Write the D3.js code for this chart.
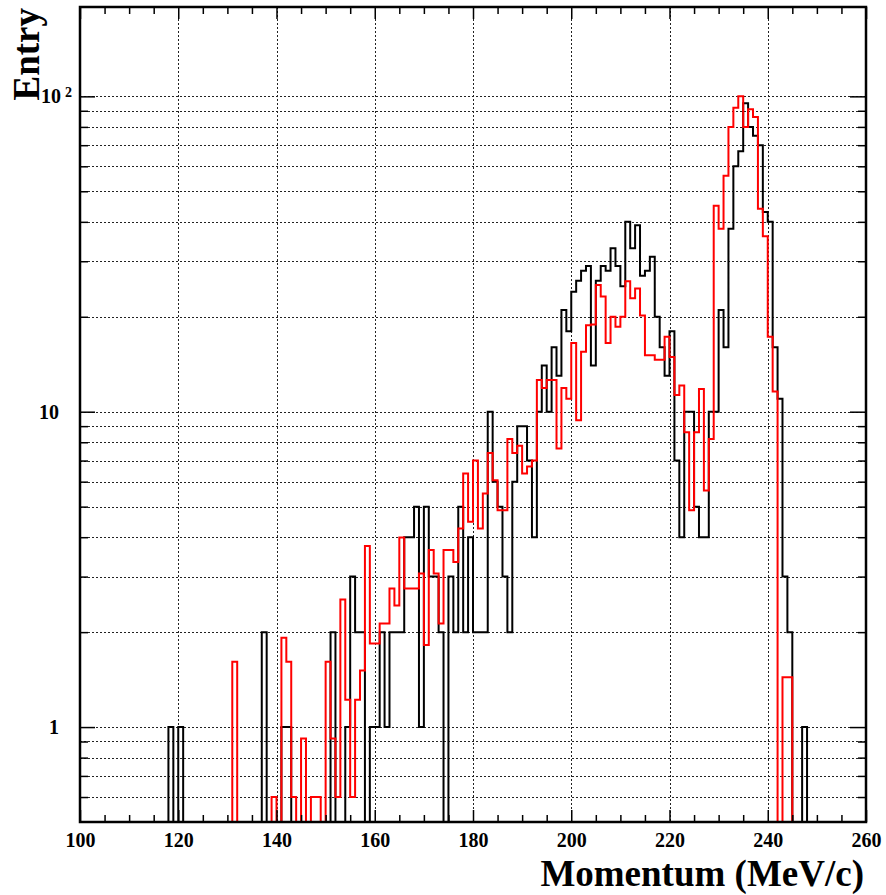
<!DOCTYPE html>
<html>
<head>
<meta charset="utf-8">
<script src="https://cdn.jsdelivr.net/npm/d3@7"></script>
<style>
  body { margin: 0; background: #fff; }
  svg { display: block; }
  text { font-family: "Liberation Serif", "DejaVu Serif", serif; font-weight: bold; }
</style>
</head>
<body>
<svg id="chart" width="886" height="895"></svg>
<script>
// 1 MeV/c bins from 100 to 260, one value per bin
const binStart = 100;
const binWidth = 1;

const blackCounts = [
  0, 0, 0, 0, 0, 0, 0, 0, 0, 0,
  0, 0, 0, 0, 0, 0, 0, 0, 1, 0,
  1, 0, 0, 0, 0, 0, 0, 0, 0, 0,
  0, 0, 0, 0, 0, 0, 0, 2, 0, 0,
  0, 1, 1, 0, 0, 0, 0, 0, 0, 0,
  0, 2, 0, 0, 1, 3, 2, 2, 0, 1,
  1, 2, 1, 2, 2, 2, 4, 4, 5, 1,
  5, 3, 3, 2, 0, 3, 2, 5, 2, 4,
  2, 2, 2, 10, 6, 5, 3, 2, 6, 9,
  9, 7, 4, 10, 14, 10, 16, 13, 21, 18,
  24, 26, 28, 29, 14, 26, 29, 28, 33, 29,
  25, 40, 33, 39, 27, 28, 31, 20, 16, 13,
  18, 7, 4, 10, 10, 5, 4, 4, 10, 10,
  21, 16, 38, 60, 67, 95, 80, 75, 70, 43,
  40, 16, 11, 3, 2, 0, 0, 1, 0, 0,
  0, 0, 0, 0, 0, 0, 0, 0, 0, 0
];

const redCounts = [
  0, 0, 0, 0, 0, 0, 0, 0, 0, 0,
  0, 0, 0, 0, 0, 0, 0, 0, 0, 0,
  0, 0, 0, 0, 0, 0, 0, 0, 0, 0,
  0, 1.61, 0, 0, 0, 0, 0, 0, 0, 0.6,
  0, 1.92, 1.61, 0.6, 0, 0.92, 0, 0.6, 0.6, 0,
  1.61, 0.92, 0.6, 2.54, 1.22, 0.6, 1.22, 1.51, 3.75, 1.84,
  1.84, 2.13, 2.13, 2.75, 2.43, 3.99, 2.75, 2.75, 2.75, 3.07,
  1.82, 3.64, 3.07, 2.13, 3.64, 3.64, 3.34, 4.26, 6.37, 4.48,
  7.0, 4.26, 5.5, 7.4, 6.06, 4.87, 4.87, 8.2, 7.4, 7.8,
  6.37, 6.7, 7.0, 12.6, 11.9, 12.6, 12.6, 7.65, 11.9, 11.0,
  16.5, 9.4, 15.5, 18.8, 18.9, 25.2, 23.2, 16.5, 20, 18.6,
  20, 25.9, 22.9, 24.6, 20.2, 15.1, 15.1, 14.6, 14.6, 17.3,
  14.9, 11.3, 12.1, 8.6, 4.87, 8.6, 11.8, 5.63, 8.2, 45,
  38, 56, 80, 92, 100, 80, 91, 86, 44, 36,
  17.3, 11.6, 0, 1.44, 1.44, 0, 0, 0, 0, 0,
  0, 0, 0, 0, 0, 0, 0, 0, 0, 0
];

const xLabels = [100, 120, 140, 160, 180, 200, 220, 240, 260];
const xMinor = [105, 110, 115, 125, 130, 135, 145, 150, 155, 165, 170, 175,
  185, 190, 195, 205, 210, 215, 225, 230, 235, 245, 250, 255];
const yLabels = [1, 10, 100];
const yMinor = [0.6, 0.7, 0.8, 0.9, 2, 3, 4, 5, 6, 7, 8, 9,
  20, 30, 40, 50, 60, 70, 80, 90];

const frameLeft = 80, frameRight = 866, frameTop = 7, frameBottom = 822;
const labelSize = 20;

const svg = d3.select("#chart");

const x = d3.scaleLinear().domain([100, 260]).range([frameLeft, frameRight]);
const y = d3.scaleLog().domain([0.5, 192]).range([frameBottom, frameTop]);

svg.append("defs").append("clipPath").attr("id", "frame")
  .append("rect")
  .attr("x", frameLeft).attr("y", frameTop)
  .attr("width", frameRight - frameLeft).attr("height", frameBottom - frameTop);

// dotted grid
const grid = svg.append("g").attr("stroke", "#222").attr("stroke-width", 1)
  .attr("stroke-dasharray", "2,2");
grid.selectAll(".hgrid")
  .data(yLabels.concat(yMinor))
  .join("line")
  .attr("x1", frameLeft).attr("x2", frameRight)
  .attr("y1", (d) => Math.round(y(d)) + 0.5)
  .attr("y2", (d) => Math.round(y(d)) + 0.5);
grid.selectAll(".vgrid")
  .data(xLabels.slice(1, -1))
  .join("line")
  .attr("x1", (d) => Math.round(x(d)) + 0.5)
  .attr("x2", (d) => Math.round(x(d)) + 0.5)
  .attr("y1", frameTop).attr("y2", frameBottom);

// histograms
function stepPoints(values) {
  const pts = values.map((v, i) => [binStart + i * binWidth, v]);
  pts.push([binStart + values.length * binWidth, values[values.length - 1]]);
  return pts;
}
const yMin = y.domain()[0];
const line = d3.line()
  .x((d) => x(d[0]))
  .y((d) => y(Math.max(d[1], yMin)))
  .curve(d3.curveStepAfter);

const plot = svg.append("g").attr("clip-path", "url(#frame)")
  .attr("fill", "none").attr("stroke-width", 2);
plot.append("path").attr("d", line(stepPoints(blackCounts))).attr("stroke", "#000");
plot.append("path").attr("d", line(stepPoints(redCounts))).attr("stroke", "#ff0000");
// red edge segments at the frame sides
plot.selectAll(".redEdge")
  .data([100, 260])
  .join("line")
  .attr("x1", (d) => x(d)).attr("x2", (d) => x(d))
  .attr("y1", y(1)).attr("y2", y(yMin))
  .attr("stroke", "#ff0000");

// axes (ticks point inward)
function styleAxis(g) {
  g.select(".domain").remove();
  g.selectAll(".tick line").attr("stroke", "#000").attr("stroke-width", 1.5);
}
function styleLabels(g) {
  g.selectAll("text").attr("font-size", labelSize).attr("fill", "#000")
    .style("font-family", "'Liberation Serif', serif").style("font-weight", "bold");
}

svg.append("g").attr("transform", `translate(0,${frameBottom})`)
  .call(d3.axisBottom(x).tickValues(xMinor).tickSize(-7).tickFormat(""))
  .call(styleAxis);
svg.append("g").attr("transform", `translate(0,${frameBottom})`)
  .call(d3.axisBottom(x).tickValues(xLabels).tickSize(-12).tickPadding(11))
  .call(styleAxis)
  .call(styleLabels);

svg.append("g").attr("transform", `translate(0,${frameTop})`)
  .call(d3.axisTop(x).tickValues(xMinor).tickSize(-7).tickFormat(""))
  .call(styleAxis);
svg.append("g").attr("transform", `translate(0,${frameTop})`)
  .call(d3.axisTop(x).tickValues(xLabels).tickSize(-12).tickFormat(""))
  .call(styleAxis);

svg.append("g").attr("transform", `translate(${frameLeft},0)`)
  .call(d3.axisLeft(y).tickValues(yMinor).tickSize(-8).tickFormat(""))
  .call(styleAxis);
svg.append("g").attr("transform", `translate(${frameLeft},0)`)
  .call(d3.axisLeft(y).tickValues(yLabels).tickSize(-15).tickPadding(21)
    .tickFormat((d) => (d === 100 ? "" : d)))
  .call(styleAxis)
  .call(styleLabels);

svg.append("g").attr("transform", `translate(${frameRight},0)`)
  .call(d3.axisRight(y).tickValues(yMinor).tickSize(-8).tickFormat(""))
  .call(styleAxis);
svg.append("g").attr("transform", `translate(${frameRight},0)`)
  .call(d3.axisRight(y).tickValues(yLabels).tickSize(-16).tickFormat(""))
  .call(styleAxis);

// 10^2 label
const pow = svg.append("text")
  .attr("x", frameLeft - 8).attr("y", y(100))
  .attr("dy", "0.32em")
  .attr("text-anchor", "end")
  .attr("font-size", labelSize);
pow.append("tspan").text("10");
pow.append("tspan").attr("dx", 4).attr("dy", -6).attr("font-size", 14).text("2");

// frame
svg.append("rect")
  .attr("x", frameLeft).attr("y", frameTop)
  .attr("width", frameRight - frameLeft).attr("height", frameBottom - frameTop)
  .attr("fill", "none").attr("stroke", "#000").attr("stroke-width", 2.5);

// axis titles
svg.append("text")
  .attr("x", 864).attr("y", 886)
  .attr("text-anchor", "end")
  .attr("font-size", 37)
  .text("Momentum (MeV/c)");

svg.append("text")
  .attr("transform", "translate(39,8) rotate(-90)")
  .attr("text-anchor", "end")
  .attr("font-size", 37)
  .text("Entry");
</script>
</body>
</html>
